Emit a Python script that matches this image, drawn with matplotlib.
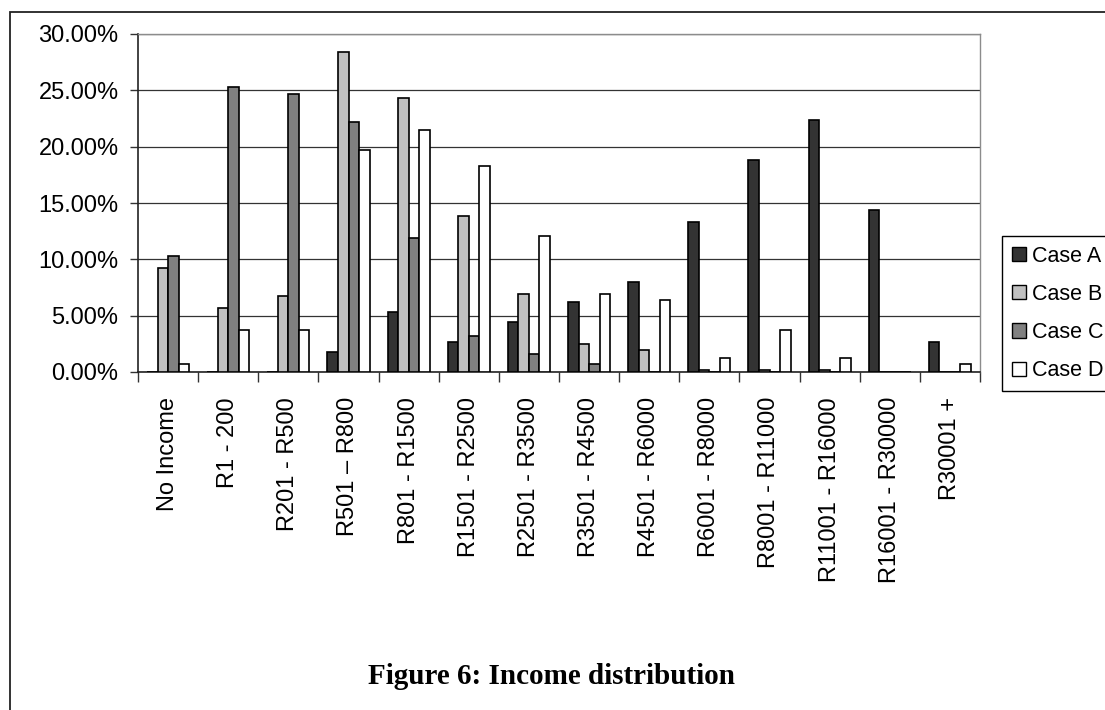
import matplotlib
matplotlib.use("Agg")
import matplotlib.pyplot as plt
import numpy as np
from matplotlib.patches import Rectangle, Patch
from matplotlib.ticker import FuncFormatter, MultipleLocator

categories = ["No Income", "R1 - 200", "R201 - R500", "R501 \u2013 R800", "R801 - R1500",
              "R1501 - R2500", "R2501 - R3500", "R3501 - R4500", "R4501 - R6000",
              "R6001 - R8000", "R8001 - R11000", "R11001 - R16000", "R16001 - R30000",
              "R30001 +"]
case_a = [0.0, 0.0, 0.0, 1.77, 5.32, 2.66, 4.44, 6.21, 7.99, 13.31, 18.84, 22.39, 14.40, 2.66]
case_b = [9.23, 5.68, 6.74, 28.39, 24.31, 13.81, 6.92, 2.48, 1.95, 0.20, 0.20, 0.20, 0.0, 0.0]
case_c = [10.26, 25.34, 24.67, 22.15, 11.89, 3.16, 1.60, 0.71, 0.0, 0.0, 0.0, 0.0, 0.0, 0.0]
case_d = [0.71, 3.69, 3.69, 19.70, 21.50, 18.30, 12.03, 6.92, 6.35, 1.24, 3.75, 1.24, 0.0, 0.71]
series_names = ["Case A", "Case B", "Case C", "Case D"]
series_colors = ["#333333", "#c0c0c0", "#808080", "#ffffff"]

plt.rcParams['font.family'] = ['Liberation Sans', 'DejaVu Sans']

W, H = 1105, 710
fig = plt.figure(figsize=(W / 100, H / 100), dpi=100)

# outer frame
fig.patches.append(Rectangle((10 / W, -0.05), 1.2, 1 - 12 / H + 0.05, transform=fig.transFigure,
                             fill=False, edgecolor="#222222", linewidth=1.3))

ax = fig.add_axes([138 / W, 1 - 372 / H, (980 - 138) / W, (372 - 34) / H])

x = np.arange(len(categories))
bw = 0.175
data = [case_a, case_b, case_c, case_d]
for i, (vals, col, name) in enumerate(zip(data, series_colors, series_names)):
    ax.bar(x + (i - 1.5) * bw, vals, width=bw, color=col, edgecolor="black",
           linewidth=1.2, label=name, zorder=3)

ax.set_xlim(-0.5, len(categories) - 0.5)
ax.set_ylim(0, 30)
ax.yaxis.set_major_locator(MultipleLocator(5))
ax.yaxis.set_major_formatter(FuncFormatter(lambda v, p: f"{v:.2f}%"))
ax.grid(axis="y", color="#333333", linewidth=0.9, zorder=0)
ax.set_axisbelow(True)

ax.set_xticks(np.arange(len(categories) + 1) - 0.5, minor=False)
ax.set_xticklabels([])
ax.set_xticks(x, minor=True)
ax.set_xticklabels(categories, minor=True, rotation=90, fontsize=17, va="top", ha="center")
ax.tick_params(axis="x", which="minor", length=0, pad=18)
ax.tick_params(axis="x", which="major", length=7, width=1, color="#333333", direction="out")
ax.tick_params(axis="y", length=6, width=1, color="#333333", labelsize=17, pad=8)

for s in ["top", "right"]:
    ax.spines[s].set_color("#8c8c8c")
    ax.spines[s].set_linewidth(1.0)
for s in ["left", "bottom"]:
    ax.spines[s].set_color("#222222")
    ax.spines[s].set_linewidth(1.2)

handles = [Patch(facecolor=c, edgecolor="black", linewidth=1.0) for c in series_colors]
leg = fig.legend(handles, series_names, loc="lower left",
                 bbox_to_anchor=(1002 / W, 1 - 391 / H), bbox_transform=fig.transFigure,
                 fontsize=15.5, frameon=True, fancybox=False, framealpha=1,
                 edgecolor="black", borderpad=0.45, labelspacing=0.8,
                 handlelength=0.65, handleheight=0.65, handletextpad=0.3, borderaxespad=0)
leg.get_frame().set_linewidth(1.0)

fig.text(551 / W, 1 - 677 / H, "Figure 6: Income distribution", ha="center", va="center",
         fontsize=21, fontweight="bold", family=["Liberation Serif", "DejaVu Serif"])

fig.savefig("out.png", dpi=100)
